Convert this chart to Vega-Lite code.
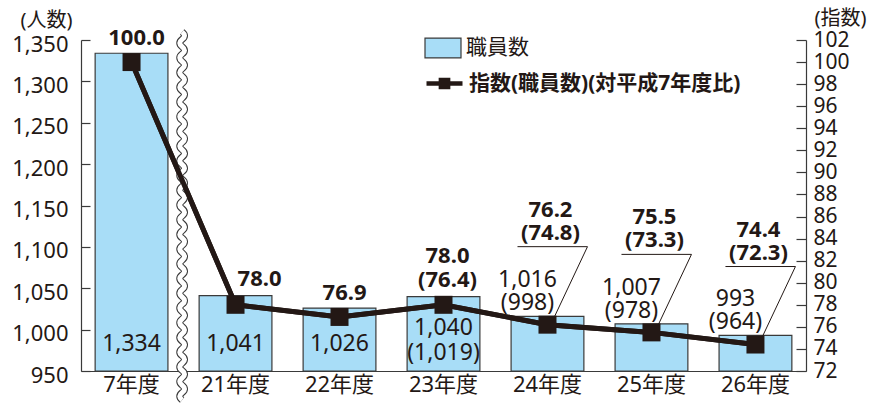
{
  "$schema": "https://vega.github.io/schema/vega-lite/v6.json",
  "width": 725,
  "height": 331,
  "autosize": {"type": "none"},
  "padding": {"left": 81, "top": 40, "right": 84, "bottom": 33},
  "background": "white",
  "config": {
    "font": "Noto Sans, Noto Sans CJK JP",
    "view": {"stroke": null},
    "axis": {"grid": false, "labelColor": "#231815", "titleColor": "#231815", "domainColor": "#3a3a3a", "tickColor": "#3a3a3a", "labelFont": "Noto Sans, Noto Sans CJK JP", "titleFont": "Noto Sans, Noto Sans CJK JP", "labelOverlap": false},
    "legend": {"labelFont": "Noto Sans, Noto Sans CJK JP"},
    "text": {"font": "Noto Sans, Noto Sans CJK JP", "color": "#231815"}
  },
  "data": {"values": [
    {"year": "7年度", "staff": 1334, "index": 100.0, "staffLabel": "1,334", "indexLabel": "100.0"},
    {"year": "21年度", "staff": 1041, "index": 78.0, "staffLabel": "1,041", "indexLabel": "78.0"},
    {"year": "22年度", "staff": 1026, "index": 76.9, "staffLabel": "1,026", "indexLabel": "76.9"},
    {"year": "23年度", "staff": 1040, "index": 78.0, "staffLabel": "1,040\n(1,019)", "indexLabel": "78.0\n(76.4)"},
    {"year": "24年度", "staff": 1016, "index": 76.2, "staffLabel": "1,016\n(998)", "indexLabel": "76.2\n(74.8)"},
    {"year": "25年度", "staff": 1007, "index": 75.5, "staffLabel": "1,007\n(978)", "indexLabel": "75.5\n(73.3)"},
    {"year": "26年度", "staff": 993, "index": 74.4, "staffLabel": "993\n(964)", "indexLabel": "74.4\n(72.3)"}
  ]},
  "encoding": {
    "x": {"field": "year", "type": "ordinal", "sort": null,
      "scale": {"paddingInner": 0.3, "paddingOuter": 0.136},
      "axis": {"title": null, "labelAngle": 0, "ticks": false, "labelFontSize": 22, "labelPadding": 3, "domainWidth": 1.2}}
  },
  "layer": [
    {
      "layer": [
        {
          "mark": {"type": "bar", "stroke": "#3a3a3a", "strokeWidth": 1.2},
          "encoding": {
            "y": {"field": "staff", "type": "quantitative",
              "scale": {"domain": [950, 1350], "nice": false, "zero": false},
              "axis": {"orient": "left", "title": "(人数)", "titleAngle": 0, "titleX": -35, "titleY": -20, "titleAlign": "center", "titleBaseline": "middle", "titleFontSize": 20, "titleFontWeight": "normal", "labelOverlap": false, "tickCount": 9,
                "values": [950, 1000, 1050, 1100, 1150, 1200, 1250, 1300, 1350], "format": ",.0f", "labelFontSize": 22, "tickSize": -9, "labelPadding": 22, "labelOffset": 4, "domainWidth": 1.2, "tickWidth": 1.2}},
            "y2": {"datum": 950},
            "fill": {"datum": "職員数", "type": "nominal",
              "scale": {"domain": ["職員数"], "range": ["#a8ddf7"]},
              "legend": {"title": null, "orient": "none", "legendX": 343, "legendY": -11, "padding": 0,
                "labelFontSize": 21, "labelColor": "#231815", "labelLimit": 400, "labelOffset": 4, "symbolSize": 1296,
                "symbolType": "M-1 -0.55H1V0.55H-1Z", "symbolStrokeColor": "#3a3a3a", "symbolStrokeWidth": 1.2, "symbolOpacity": 1}}
          }
        },
        {
          "transform": [{"filter": {"field": "year", "oneOf": ["7年度", "21年度", "22年度"]}}],
          "mark": {"type": "text", "fontSize": 23, "baseline": "middle", "dy": -27},
          "encoding": {"y": {"datum": 950}, "text": {"field": "staffLabel"}}
        },
        {
          "transform": [{"filter": {"field": "year", "equal": "23年度"}}],
          "mark": {"type": "text", "fontSize": 23, "baseline": "middle", "lineBreak": "\n", "lineHeight": 25, "dy": -43},
          "encoding": {"y": {"datum": 950}, "text": {"field": "staffLabel"}}
        },
        {
          "transform": [{"filter": {"field": "year", "oneOf": ["24年度", "25年度", "26年度"]}}],
          "mark": {"type": "text", "fontSize": 23, "baseline": "middle", "lineBreak": "\n", "lineHeight": 23, "dx": -20, "dy": -36},
          "encoding": {"y": {"field": "staff", "type": "quantitative"}, "text": {"field": "staffLabel"}}
        }
      ]
    },
    {
      "layer": [
        {
          "mark": {"type": "line", "strokeWidth": 5},
          "encoding": {
            "y": {"field": "index", "type": "quantitative",
              "scale": {"domain": [72, 102], "nice": false, "zero": false},
              "axis": {"orient": "right", "title": "(指数)", "titleAngle": 0, "titleX": 34, "titleY": -22, "titleAlign": "center", "titleBaseline": "middle", "titleFontSize": 20, "titleFontWeight": "normal", "labelOverlap": false, "tickCount": 16,
                "values": [72, 74, 76, 78, 80, 82, 84, 86, 88, 90, 92, 94, 96, 98, 100, 102], "labelFontSize": 21, "tickSize": -10, "labelPadding": 17, "domainWidth": 1.2, "tickWidth": 1.2}},
            "stroke": {"datum": "指数(職員数)(対平成7年度比)", "type": "nominal",
              "scale": {"domain": ["指数(職員数)(対平成7年度比)"], "range": ["#231815"]},
              "legend": {"title": null, "orient": "none", "legendX": 343, "legendY": 23, "padding": 0,
                "labelFontSize": 21, "labelColor": "#231815", "labelFontWeight": "bold", "labelLimit": 400, "labelOffset": 4, "symbolSize": 1296,
                "symbolType": "M-1 0H1M-0.2 -0.2H0.2V0.2H-0.2ZM-0.08 -0.08H0.08V0.08H-0.08Z", "symbolStrokeWidth": 4.5, "symbolFillColor": "#231815", "symbolOpacity": 1}}
          }
        },
        {
          "transform": [{"filter": {"field": "year", "equal": "21年度"}}],
          "mark": {"type": "point", "filled": false, "stroke": "#3a3a3a", "strokeWidth": 7, "opacity": 1, "size": 135424, "xOffset": -17, "yOffset": 10.5,
            "shape": "M0 -1 Q0.026 -0.98 0 -0.96 T0 -0.92 T0 -0.88 T0 -0.84 T0 -0.8 T0 -0.76 T0 -0.72 T0 -0.68 T0 -0.64 T0 -0.6 T0 -0.56 T0 -0.52 T0 -0.48 T0 -0.44 T0 -0.4 T0 -0.36 T0 -0.32 T0 -0.28 T0 -0.24 T0 -0.2 T0 -0.16 T0 -0.12 T0 -0.08 T0 -0.04 T0 0 T0 0.04 T0 0.08 T0 0.12 T0 0.16 T0 0.2 T0 0.24 T0 0.28 T0 0.32 T0 0.36 T0 0.4 T0 0.44 T0 0.48 T0 0.52 T0 0.56 T0 0.6 T0 0.64 T0 0.68 T0 0.72 T0 0.76 T0 0.8 T0 0.84 T0 0.88 T0 0.92 T0 0.96 T0 1"},
          "encoding": {"x": {"field": "year", "type": "ordinal", "bandPosition": 0}, "y": {"datum": 87}}
        },
        {
          "transform": [{"filter": {"field": "year", "equal": "21年度"}}],
          "mark": {"type": "point", "filled": false, "stroke": "white", "strokeWidth": 5, "opacity": 1, "size": 135424, "xOffset": -17, "yOffset": 10.5,
            "shape": "M0 -1 Q0.026 -0.98 0 -0.96 T0 -0.92 T0 -0.88 T0 -0.84 T0 -0.8 T0 -0.76 T0 -0.72 T0 -0.68 T0 -0.64 T0 -0.6 T0 -0.56 T0 -0.52 T0 -0.48 T0 -0.44 T0 -0.4 T0 -0.36 T0 -0.32 T0 -0.28 T0 -0.24 T0 -0.2 T0 -0.16 T0 -0.12 T0 -0.08 T0 -0.04 T0 0 T0 0.04 T0 0.08 T0 0.12 T0 0.16 T0 0.2 T0 0.24 T0 0.28 T0 0.32 T0 0.36 T0 0.4 T0 0.44 T0 0.48 T0 0.52 T0 0.56 T0 0.6 T0 0.64 T0 0.68 T0 0.72 T0 0.76 T0 0.8 T0 0.84 T0 0.88 T0 0.92 T0 0.96 T0 1"},
          "encoding": {"x": {"field": "year", "type": "ordinal", "bandPosition": 0}, "y": {"datum": 87}}
        },
        {
          "mark": {"type": "line", "strokeWidth": 5, "color": "#231815"},
          "encoding": {"y": {"field": "index", "type": "quantitative"}}
        },
        {
          "mark": {"type": "square", "size": 324, "opacity": 1, "filled": true, "color": "#231815"},
          "encoding": {"y": {"field": "index", "type": "quantitative"}}
        },
        {
          "transform": [{"filter": {"field": "year", "oneOf": ["24年度", "25年度", "26年度"]}}],
          "mark": {"type": "rule", "color": "#231815", "strokeWidth": 1, "xOffset": 7, "x2Offset": 40, "yOffset": -8, "y2Offset": -78},
          "encoding": {"x2": {"field": "year"}, "y": {"field": "index", "type": "quantitative"}, "y2": {"field": "index"}}
        },
        {
          "transform": [{"filter": {"field": "year", "oneOf": ["24年度", "25年度", "26年度"]}}],
          "mark": {"type": "rule", "color": "#231815", "strokeWidth": 1, "xOffset": -30, "x2Offset": 40, "yOffset": -78},
          "encoding": {"x2": {"field": "year"}, "y": {"field": "index", "type": "quantitative"}}
        },
        {
          "transform": [{"filter": {"field": "year", "oneOf": ["7年度", "22年度"]}}],
          "mark": {"type": "text", "fontSize": 22, "fontWeight": "bold", "baseline": "bottom", "dx": 5, "dy": -12},
          "encoding": {"y": {"field": "index", "type": "quantitative"}, "text": {"field": "indexLabel"}}
        },
        {
          "transform": [{"filter": {"field": "year", "equal": "23年度"}}],
          "mark": {"type": "text", "fontSize": 22, "fontWeight": "bold", "baseline": "middle", "lineBreak": "\n", "lineHeight": 24, "dx": 4, "dy": -49},
          "encoding": {"y": {"field": "index", "type": "quantitative"}, "text": {"field": "indexLabel"}}
        },
        {
          "transform": [{"filter": {"field": "year", "equal": "21年度"}}],
          "mark": {"type": "text", "fontSize": 22, "fontWeight": "bold", "baseline": "bottom", "dx": 24, "dy": -14},
          "encoding": {"y": {"field": "index", "type": "quantitative"}, "text": {"field": "indexLabel"}}
        },
        {
          "transform": [{"filter": {"field": "year", "oneOf": ["24年度", "25年度", "26年度"]}}],
          "mark": {"type": "text", "fontSize": 22, "fontWeight": "bold", "baseline": "middle", "lineBreak": "\n", "lineHeight": 23, "dx": 3, "dy": -115},
          "encoding": {"y": {"field": "index", "type": "quantitative"}, "text": {"field": "indexLabel"}}
        }
      ]
    }
  ],
  "resolve": {"scale": {"y": "independent"}}
}
